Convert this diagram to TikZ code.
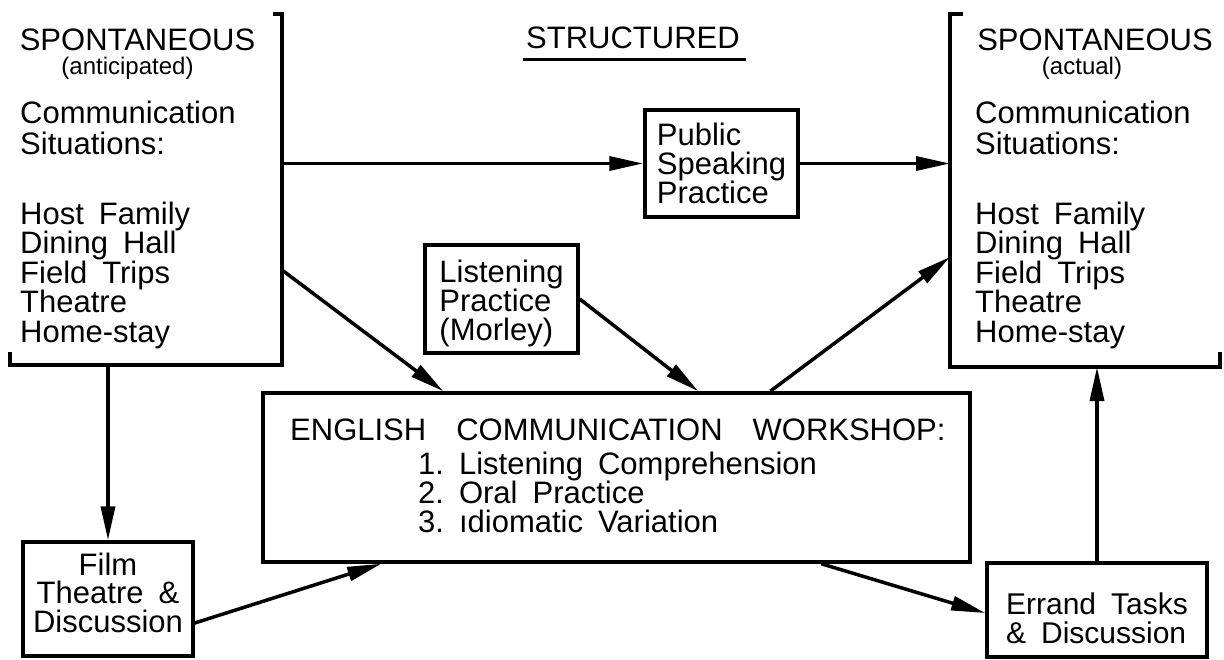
\documentclass[tikz,border=0pt]{standalone}
\usepackage{fontspec}
\setmainfont{Liberation Sans}
\usetikzlibrary{arrows.meta}
% text sizes: #1 is the line pitch
\newcommand\boxfont[1]{\fontsize{31}{#1}\selectfont\spaceskip 15pt\relax\frenchspacing}
\newcommand\txtfont{\boxfont{31}}
\newcommand\wideheadfont{\fontsize{31}{31}\selectfont\spaceskip 30pt\relax}
\newcommand\subfont{\fontsize{24}{24}\selectfont}
\newcommand\upstrut[1]{\vrule width 0pt height #1 depth 0pt\relax}
\newcommand\downstrut[1]{\vrule width 0pt height 0pt depth #1\relax}
\tikzset{
  rule/.style={line width=3.5pt},
  conn/.style={line width=3.5pt, -{Triangle[length=34pt,width=14pt]}},
  frame/.style={inner sep=0pt, outer sep=0pt},
  box/.style={draw, line width=3.5pt, inner sep=0pt, align=left},
  lbl/.style={inner sep=0pt, anchor=base west, font=\txtfont},
  head/.style={inner sep=0pt, anchor=base, font=\txtfont},
  sub/.style={inner sep=0pt, anchor=base, font=\subfont},
}
\begin{document}
\begin{tikzpicture}[x=1pt,y=-1pt]
\fill[white] (0,0) rectangle (1224,659);
\useasboundingbox (0,0) rectangle (1224,659);

% anticipated situations (left bracket)
\node[frame, minimum width=272pt, minimum height=351pt] (spa) at (146,189.5) {};
\draw[rule] ([xshift=-9pt]spa.north east) -- (spa.north east) -- (spa.south east)
  -- (spa.south west) -- ([yshift=13pt]spa.south west);
\node[head] (spah) at (137.5,50) {SPONTANEOUS};
\node[sub] (spas) at (127.5,74) {(anticipated)};
\node[lbl] (spa1) at (20,123) {Communication};
\node[lbl] (spa2) at (20,154) {Situations:};
\foreach \t [count=\i] in {Host Family, Dining Hall, Field Trips, Theatre, Home-stay}
  \node[lbl] (spal\i) at (20,{224+29.5*(\i-1)}) {\t};

% actual situations (right bracket)
\node[frame, minimum width=270pt, minimum height=353pt] (spb) at (1085,190.5) {};
\draw[rule] ([xshift=13pt]spb.north west) -- (spb.north west) -- (spb.south west)
  -- (spb.south east) -- ([yshift=15pt]spb.south east);
\node[head] (spbh) at (1095,50) {SPONTANEOUS};
\node[sub] (spbs) at (1082,74) {(actual)};
\node[lbl] (spb1) at (975,123) {Communication};
\node[lbl] (spb2) at (975,154) {Situations:};
\foreach \t [count=\i] in {Host Family, Dining Hall, Field Trips, Theatre, Home-stay}
  \node[lbl] (spbl\i) at (975,{224+29.5*(\i-1)}) {\t};

% structured column title
\node[head] (str) at (633,48) {STRUCTURED};
\draw[line width=3pt] ([xshift=-3pt,yshift=-11pt]str.base west) -- ([xshift=6pt,yshift=-11pt]str.base east);

% activity boxes
\node[box, minimum width=153pt, minimum height=107pt, font=\boxfont{29}]
  (pub) at (721.5,163.5) {Public\\Speaking\\Practice};
\node[box, minimum width=153pt, minimum height=108pt, font=\boxfont{29}]
  (lis) at (501.5,299) {\upstrut{32pt}Listening\\Practice\\(Morley)};
\node[box, align=center, minimum width=170pt, minimum height=114pt, font=\boxfont{28.5}]
  (film) at (108,599) {Film\\Theatre \&\\Discussion\downstrut{13pt}};
\node[box, minimum width=220pt, minimum height=94pt,
  font={\fontsize{30}{29}\selectfont\spaceskip 15pt\relax}]
  (err) at (1097,610) {\upstrut{39pt}Errand Tasks\\\& Discussion};

% workshop
\node[box, minimum width=707pt, minimum height=169pt] (ecw) at (616.5,477.5) {};
\node[lbl, font=\wideheadfont] (ecwh) at (290,440) {ENGLISH COMMUNICATION WORKSHOP:};
\node[lbl] (ecw1) at (418,474) {1. Listening Comprehension};
\node[lbl] (ecw2) at (418,503) {2. Oral Practice};
\node[lbl] (ecw3) at (418,532) {3. ıdiomatic Variation};

% connectors
\draw[conn] (spa.east |- pub.west) -- (pub.west);
\draw[conn] (pub.east) -- (pub.east -| spb.west);
\draw[conn] ([yshift=-80.5pt]spa.east) -- ([xshift=182pt]ecw.north west);
\draw[conn] (lis.east) -- ([xshift=437pt]ecw.north west);
\draw[conn] ([xshift=509pt]ecw.north west) -- ([yshift=110pt]spb.south west);
\draw[conn] (film.north |- spa.south) -- (film.north);
\draw[conn] ([yshift=-24pt]film.east) -- ([xshift=120pt]ecw.south west);
\draw[conn] ([xshift=560pt]ecw.south west) -- ([yshift=-3pt]err.west);
\draw[conn] (err.north) -- (err.north |- spb.south);
\end{tikzpicture}
\end{document}
